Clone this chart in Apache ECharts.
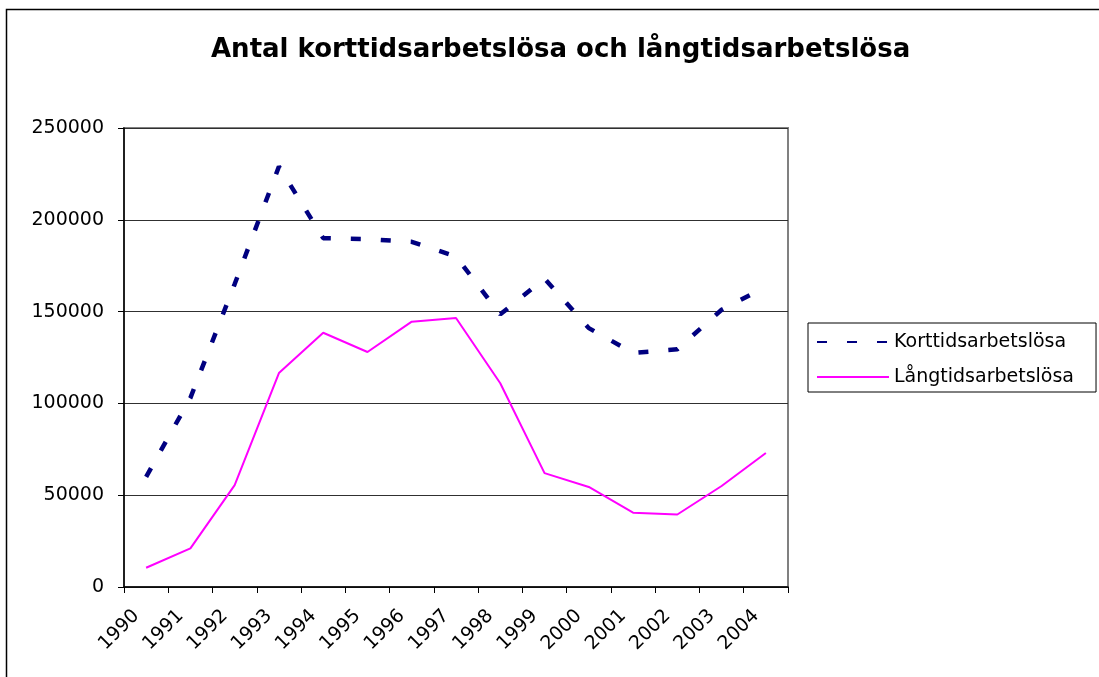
<!DOCTYPE html>
<html>
<head>
<meta charset="utf-8">
<script src="https://cdn.jsdelivr.net/npm/echarts@6/dist/echarts.min.js"></script>
<style>
  html, body { margin: 0; padding: 0; background: #fff; }
  #chart { width: 1099px; height: 677px; }
</style>
</head>
<body>
<div id="chart"></div>
<script>
const years = ['1990', '1991', '1992', '1993', '1994', '1995', '1996', '1997',
  '1998', '1999', '2000', '2001', '2002', '2003', '2004'];
const korttids = [60000, 103000, 165000, 229000, 190000, 189500, 188000, 180000,
  148500, 168000, 141000, 127500, 129500, 151000, 163500];
const langtids = [10500, 21000, 55500, 116500, 138500, 128000, 144500, 146500,
  111000, 62000, 54500, 40500, 39500, 55000, 73000];
const yTicks = { min: 0, max: 250000, step: 50000 };

const font = 'DejaVu Sans';
const chart = echarts.init(document.getElementById('chart'));

chart.setOption({
  animation: false,
  backgroundColor: '#fff',
  textStyle: { fontFamily: font, color: '#000' },
  title: {
    text: 'Antal korttidsarbetslösa och långtidsarbetslösa',
    left: 211,
    top: 37,
    padding: 0,
    textStyle: { fontFamily: font, fontSize: 26, fontWeight: 'bold', color: '#000' },
  },
  graphic: [
    {
      type: 'rect',
      shape: { x: 6.5, y: 9.5, width: 1200, height: 800 },
      style: { fill: 'none', stroke: '#000', lineWidth: 1.5 },
      silent: true,
      z: -10,
    },
  ],
  legend: {
    orient: 'vertical',
    left: 808,
    top: 323,
    padding: [9, 22, 5, 8],
    itemWidth: 72,
    itemHeight: 20,
    itemGap: 15,
    borderColor: '#000',
    borderWidth: 1,
    itemStyle: { opacity: 0 },
    textStyle: { fontFamily: font, fontSize: 19, color: '#000', lineHeight: 20 },
    data: ['Korttidsarbetslösa', 'Långtidsarbetslösa'],
  },
  grid: {
    left: 124,
    right: 311,
    top: 128,
    bottom: 90,
    show: true,
    borderColor: '#808080',
    borderWidth: 2,
    containLabel: false,
  },
  xAxis: {
    type: 'category',
    data: years,
    boundaryGap: true,
    axisLine: { lineStyle: { color: '#000', width: 1.5 } },
    axisTick: { show: true, interval: 0, length: 6, lineStyle: { color: '#000' } },
    axisLabel: {
      interval: 0,
      rotate: 45,
      margin: 16,
      padding: [0, 14, 0, 0],
      fontFamily: font,
      fontSize: 19,
      color: '#000',
    },
    splitLine: { show: false },
  },
  yAxis: {
    type: 'value',
    min: yTicks.min,
    max: yTicks.max,
    interval: yTicks.step,
    axisLine: { show: true, lineStyle: { color: '#000', width: 1.5 } },
    axisTick: { show: true, length: 6, lineStyle: { color: '#000' } },
    axisLabel: {
      margin: 20,
      fontFamily: font,
      fontSize: 19,
      color: '#000',
      formatter: (v) => String(v),
    },
    splitLine: { show: true, lineStyle: { color: '#303030', width: 1 } },
  },
  series: [
    {
      name: 'Korttidsarbetslösa',
      type: 'line',
      data: korttids,
      symbol: 'none',
      color: '#000080',
      lineStyle: { color: '#000080', width: 4.5, type: [10, 20], cap: 'butt' },
      z: 3,
    },
    {
      name: 'Långtidsarbetslösa',
      type: 'line',
      data: langtids,
      symbol: 'none',
      color: '#FF00FF',
      lineStyle: { color: '#FF00FF', width: 2 },
      z: 2,
    },
  ],
});
</script>
</body>
</html>
